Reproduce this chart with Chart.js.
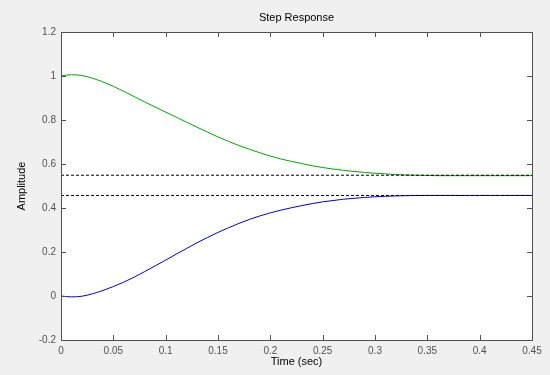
<!DOCTYPE html>
<html>
<head>
<meta charset="utf-8">
<script src="https://cdn.jsdelivr.net/npm/chart.js@4.4.0/dist/chart.umd.min.js"></script>
<style>
  html, body { margin: 0; padding: 0; background: #f0f0f0; }
  #wrap { width: 550px; height: 375px; }
</style>
</head>
<body>
<div id="wrap"><canvas id="step-response" width="550" height="375"></canvas></div>
<script>
// time axis (sec)
var timeSec = [0, 0.01, 0.02, 0.03, 0.04, 0.05, 0.06, 0.07, 0.08, 0.09,
    0.10, 0.11, 0.12, 0.13, 0.14, 0.15, 0.16, 0.17, 0.18, 0.19,
    0.20, 0.21, 0.22, 0.23, 0.24, 0.25, 0.26, 0.27, 0.28, 0.29,
    0.30, 0.31, 0.32, 0.33, 0.34, 0.35, 0.36, 0.37, 0.38, 0.39,
    0.40, 0.41, 0.42, 0.43, 0.44, 0.45];

// green response (starts at 1)
var greenResp = [1.000, 1.006, 1.002, 0.990, 0.973, 0.953, 0.930, 0.906, 0.882, 0.859,
    0.836, 0.813, 0.790, 0.767, 0.745, 0.723, 0.703, 0.684, 0.667, 0.651,
    0.636, 0.623, 0.612, 0.602, 0.592, 0.584, 0.577, 0.571, 0.566, 0.562,
    0.558, 0.555, 0.552, 0.550, 0.549, 0.548, 0.547, 0.547, 0.547, 0.547,
    0.547, 0.547, 0.547, 0.547, 0.547, 0.547];

// blue response (starts at 0)
var blueResp = [0.000, -0.004, -0.001, 0.010, 0.025, 0.043, 0.063, 0.086, 0.111, 0.137,
    0.163, 0.190, 0.216, 0.242, 0.266, 0.289, 0.310, 0.330, 0.348, 0.364,
    0.378, 0.390, 0.401, 0.411, 0.420, 0.428, 0.434, 0.440, 0.444, 0.448,
    0.451, 0.453, 0.455, 0.456, 0.457, 0.457, 0.457, 0.457, 0.457, 0.457,
    0.457, 0.457, 0.457, 0.457, 0.457, 0.457];

// steady state levels (dashed)
var steadyHigh = 0.549;
var steadyLow = 0.457;

var xTicks = [0, 0.05, 0.1, 0.15, 0.2, 0.25, 0.3, 0.35, 0.4, 0.45];
var yTicks = [-0.2, 0, 0.2, 0.4, 0.6, 0.8, 1, 1.2];

function pts(ys) {
    return timeSec.map(function (t, i) { return { x: t, y: ys[i] }; });
}
function flat(v) {
    return [{ x: timeSec[0], y: v }, { x: timeSec[timeSec.length - 1], y: v }];
}

var axisColor = "#505050";
var fontFam = "'Liberation Sans', Arial, sans-serif";

// draws white plot box, frame and inward ticks (matlab style)
var matlabFrame = {
    id: "matlabFrame",
    beforeDraw: function (chart) {
        var ctx = chart.ctx, a = chart.chartArea;
        ctx.save();
        ctx.fillStyle = "#f0f0f0";
        ctx.fillRect(0, 0, chart.width, chart.height);
        ctx.fillStyle = "#ffffff";
        ctx.fillRect(a.left, a.top, a.right - a.left, a.bottom - a.top);
        ctx.restore();
    },
    afterDraw: function (chart) {
        var ctx = chart.ctx, a = chart.chartArea;
        var xs = chart.scales.x, ys = chart.scales.y;
        var len = 5;
        ctx.save();
        ctx.strokeStyle = axisColor;
        ctx.lineWidth = 1;
        ctx.beginPath();
        xTicks.forEach(function (v) {
            var px = Math.round(xs.getPixelForValue(v)) + 0.5;
            ctx.moveTo(px, a.bottom);
            ctx.lineTo(px, a.bottom - len);
            ctx.moveTo(px, a.top);
            ctx.lineTo(px, a.top + len);
        });
        yTicks.forEach(function (v) {
            var py = Math.round(ys.getPixelForValue(v)) + 0.5;
            ctx.moveTo(a.left, py);
            ctx.lineTo(a.left + len, py);
            ctx.moveTo(a.right, py);
            ctx.lineTo(a.right - len, py);
        });
        ctx.stroke();
        ctx.strokeRect(Math.round(a.left) + 0.5, Math.round(a.top) + 0.5,
            Math.round(a.right - a.left), Math.round(a.bottom - a.top));
        ctx.restore();
    }
};

var ctx = document.getElementById("step-response").getContext("2d");

var stepChart = new Chart(ctx, {
    type: "line",
    data: {
        datasets: [
            {
                label: "upper final value",
                data: flat(steadyHigh),
                borderColor: "#000000",
                borderWidth: 1,
                borderDash: [3, 2],
                pointRadius: 0,
            },
            {
                label: "lower final value",
                data: flat(steadyLow),
                borderColor: "#000000",
                borderWidth: 1,
                borderDash: [3, 2],
                pointRadius: 0,
            },
            {
                label: "green",
                data: pts(greenResp),
                borderColor: "#00a800",
                borderWidth: 1,
                pointRadius: 0,
                cubicInterpolationMode: "monotone",
            },
            {
                label: "blue",
                data: pts(blueResp),
                borderColor: "#0000e0",
                borderWidth: 1,
                pointRadius: 0,
                cubicInterpolationMode: "monotone",
            },
        ],
    },
    options: {
        responsive: false,
        animation: false,
        layout: { padding: 0 },
        plugins: {
            legend: { display: false },
            tooltip: { enabled: false },
        },
        scales: {
            x: {
                type: "linear",
                position: "bottom",
                min: 0,
                max: 0.45,
                afterBuildTicks: function (s) { s.ticks = xTicks.map(function (v) { return { value: v }; }); },
                afterFit: function (s) { s.height = 35; },
                grid: { display: false, drawTicks: false },
                border: { display: false },
                ticks: {
                    color: axisColor,
                    padding: 5,
                    maxRotation: 0,
                    autoSkip: false,
                    font: { family: fontFam, size: 10 },
                    callback: function (v) { return String(v); },
                },
                title: {
                    display: true,
                    text: "Time (sec)",
                    color: "#000000",
                    padding: { top: 0, bottom: 6 },
                    font: { family: fontFam, size: 11 },
                },
            },
            xTop: {
                type: "linear",
                position: "top",
                min: 0,
                max: 0.45,
                afterFit: function (s) { s.height = 32; },
                grid: { display: false, drawTicks: false },
                border: { display: false },
                ticks: { display: false },
                title: {
                    display: true,
                    text: "Step Response",
                    color: "#000000",
                    padding: { top: 11, bottom: 0 },
                    font: { family: fontFam, size: 11 },
                },
            },
            y: {
                type: "linear",
                position: "left",
                min: -0.2,
                max: 1.2,
                afterBuildTicks: function (s) { s.ticks = yTicks.map(function (v) { return { value: v }; }); },
                afterFit: function (s) { s.width = 61; },
                grid: { display: false, drawTicks: false },
                border: { display: false },
                ticks: {
                    color: axisColor,
                    padding: 5,
                    autoSkip: false,
                    font: { family: fontFam, size: 10 },
                    callback: function (v) { return String(v); },
                },
                title: {
                    display: true,
                    text: "Amplitude",
                    color: "#000000",
                    padding: { top: 15, bottom: 0 },
                    font: { family: fontFam, size: 11 },
                },
            },
            yRight: {
                type: "linear",
                position: "right",
                min: -0.2,
                max: 1.2,
                afterFit: function (s) { s.width = 18; },
                grid: { display: false, drawTicks: false },
                border: { display: false },
                ticks: { display: false },
            },
        },
    },
    plugins: [matlabFrame],
});
</script>
</body>
</html>
